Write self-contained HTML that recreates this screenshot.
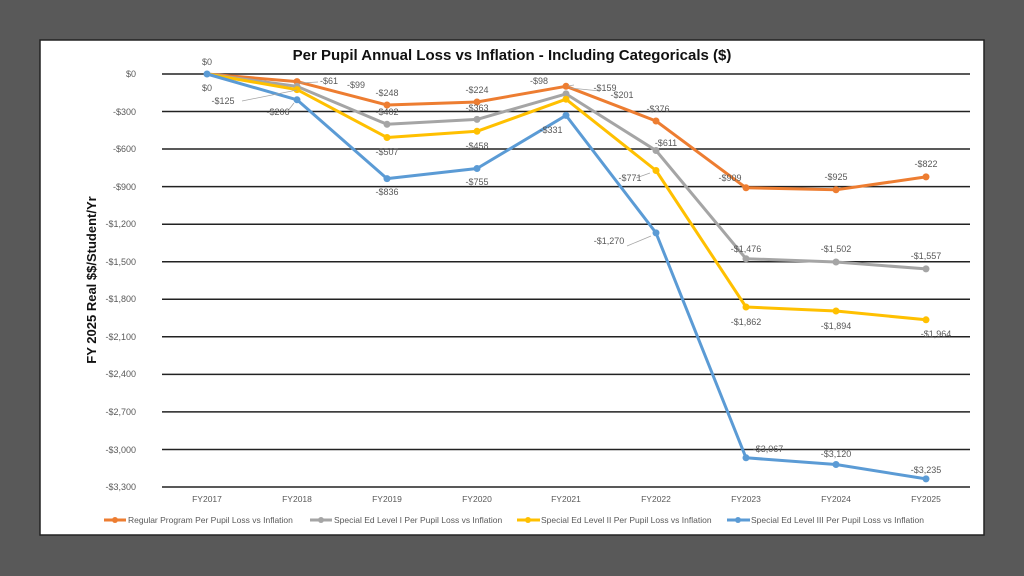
<!DOCTYPE html>
<html><head><meta charset="utf-8"><style>
body{margin:0;width:1024px;height:576px;background:#595959;overflow:hidden}
svg{position:absolute;left:0;top:0}
text{font-family:"Liberation Sans",sans-serif}
</style></head><body>
<svg width="1024" height="576" viewBox="0 0 1024 576">
<rect x="40" y="40" width="944" height="495" fill="#fff" stroke="#222" stroke-width="1.5"/>
<text x="512" y="60" text-anchor="middle" font-size="15" font-weight="bold" fill="#111">Per Pupil Annual Loss vs Inflation - Including Categoricals ($)</text>
<g stroke="#222" stroke-width="1.5">
<line x1="162" x2="970" y1="74" y2="74"/><line x1="162" x2="970" y1="111.5" y2="111.5"/><line x1="162" x2="970" y1="149" y2="149"/><line x1="162" x2="970" y1="186.6" y2="186.6"/><line x1="162" x2="970" y1="224.2" y2="224.2"/><line x1="162" x2="970" y1="261.7" y2="261.7"/><line x1="162" x2="970" y1="299.3" y2="299.3"/><line x1="162" x2="970" y1="336.8" y2="336.8"/><line x1="162" x2="970" y1="374.4" y2="374.4"/><line x1="162" x2="970" y1="411.9" y2="411.9"/><line x1="162" x2="970" y1="449.5" y2="449.5"/><line x1="162" x2="970" y1="487" y2="487"/>
</g>
<g font-size="9" fill="#595959" text-anchor="end">
<text x="136" y="77">$0</text><text x="136" y="115">-$300</text><text x="136" y="152">-$600</text><text x="136" y="190">-$900</text><text x="136" y="227">-$1,200</text><text x="136" y="265">-$1,500</text><text x="136" y="302">-$1,800</text><text x="136" y="340">-$2,100</text><text x="136" y="377">-$2,400</text><text x="136" y="415">-$2,700</text><text x="136" y="453">-$3,000</text><text x="136" y="490">-$3,300</text>
</g>
<text transform="translate(96,280) rotate(-90)" text-anchor="middle" font-size="13" font-weight="bold" fill="#111">FY 2025 Real $$/Student/Yr</text>
<g font-size="8.5" fill="#595959" text-anchor="middle">
<text x="207" y="502">FY2017</text><text x="297" y="502">FY2018</text><text x="387" y="502">FY2019</text><text x="477" y="502">FY2020</text><text x="566" y="502">FY2021</text><text x="656" y="502">FY2022</text><text x="746" y="502">FY2023</text><text x="836" y="502">FY2024</text><text x="926" y="502">FY2025</text>
</g>
<g fill="none" stroke-width="3" stroke-linejoin="round">
<polyline stroke="#ED7D31" points="207,74 297,81.6 387,105 477,102 566,86.3 656,121 746,187.8 836,189.8 926,176.9"/>
<polyline stroke="#A5A5A5" points="207,74 297,86.4 387,124.3 477,119.4 566,93.9 656,150.5 746,258.7 836,262 926,268.9"/>
<polyline stroke="#FFC000" points="207,74 297,89.6 387,137.5 477,131.3 566,99.2 656,170.5 746,307 836,311 926,319.8"/>
<polyline stroke="#5B9BD5" points="207,74 297,99.8 387,178.6 477,168.5 566,115.4 656,232.9 746,457.8 836,464.5 926,478.9"/>
</g>
<g fill="#ED7D31"><circle cx="297" cy="81.6" r="3.5"/><circle cx="387" cy="105" r="3.5"/><circle cx="477" cy="102" r="3.5"/><circle cx="566" cy="86.3" r="3.5"/><circle cx="656" cy="121" r="3.5"/><circle cx="746" cy="187.8" r="3.5"/><circle cx="836" cy="189.8" r="3.5"/><circle cx="926" cy="176.9" r="3.5"/></g>
<g fill="#A5A5A5"><circle cx="297" cy="86.4" r="3.5"/><circle cx="387" cy="124.3" r="3.5"/><circle cx="477" cy="119.4" r="3.5"/><circle cx="566" cy="93.9" r="3.5"/><circle cx="656" cy="150.5" r="3.5"/><circle cx="746" cy="258.7" r="3.5"/><circle cx="836" cy="262" r="3.5"/><circle cx="926" cy="268.9" r="3.5"/></g>
<g fill="#FFC000"><circle cx="297" cy="89.6" r="3.5"/><circle cx="387" cy="137.5" r="3.5"/><circle cx="477" cy="131.3" r="3.5"/><circle cx="566" cy="99.2" r="3.5"/><circle cx="656" cy="170.5" r="3.5"/><circle cx="746" cy="307" r="3.5"/><circle cx="836" cy="311" r="3.5"/><circle cx="926" cy="319.8" r="3.5"/></g>
<g fill="#5B9BD5"><circle cx="207" cy="74" r="3.5"/><circle cx="297" cy="99.8" r="3.5"/><circle cx="387" cy="178.6" r="3.5"/><circle cx="477" cy="168.5" r="3.5"/><circle cx="566" cy="115.4" r="3.5"/><circle cx="656" cy="232.9" r="3.5"/><circle cx="746" cy="457.8" r="3.5"/><circle cx="836" cy="464.5" r="3.5"/><circle cx="926" cy="478.9" r="3.5"/></g>
<g stroke="#A5A5A5" stroke-width="0.8" fill="none">
<polyline points="242,101 297,90"/><polyline points="287,112 294,103"/><polyline points="318,82 300,83"/><polyline points="600,91 570,88"/><polyline points="627,246 651,236"/><polyline points="636,178 650,173"/><polyline points="574,85 568,86"/>
</g>
<g font-size="9" fill="#595959" text-anchor="middle">
<text x="207" y="65">$0</text><text x="207" y="91">$0</text>
<text x="223" y="104">-$125</text><text x="278" y="115">-$206</text>
<text x="329" y="84">-$61</text><text x="356" y="88">-$99</text>
<text x="387" y="96">-$248</text><text x="387" y="115">-$402</text><text x="387" y="155">-$507</text><text x="387" y="195">-$836</text>
<text x="477" y="93">-$224</text><text x="477" y="111">-$363</text><text x="477" y="149">-$458</text><text x="477" y="185">-$755</text>
<text x="539" y="84">-$98</text><text x="605" y="91">-$159</text><text x="622" y="98">-$201</text><text x="551" y="133">-$331</text>
<text x="658" y="112">-$376</text><text x="666" y="146">-$611</text><text x="630" y="181">-$771</text><text x="609" y="244">-$1,270</text>
<text x="730" y="181">-$909</text><text x="836" y="180">-$925</text><text x="926" y="167">-$822</text>
<text x="746" y="252">-$1,476</text><text x="836" y="252">-$1,502</text><text x="926" y="259">-$1,557</text>
<text x="746" y="325">-$1,862</text><text x="836" y="329">-$1,894</text><text x="936" y="337">-$1,964</text>
<text x="768" y="452">-$3,067</text><text x="836" y="457">-$3,120</text><text x="926" y="473">-$3,235</text>
</g>
<g font-size="8.5" fill="#595959">
<line x1="104" x2="126" y1="520" y2="520" stroke="#ED7D31" stroke-width="3"/><circle cx="115" cy="520" r="3" fill="#ED7D31"/><text x="128" y="523">Regular Program Per Pupil Loss vs Inflation</text>
<line x1="310" x2="332" y1="520" y2="520" stroke="#A5A5A5" stroke-width="3"/><circle cx="321" cy="520" r="3" fill="#A5A5A5"/><text x="334" y="523">Special Ed Level I Per Pupil Loss vs Inflation</text>
<line x1="517" x2="540" y1="520" y2="520" stroke="#FFC000" stroke-width="3"/><circle cx="528" cy="520" r="3" fill="#FFC000"/><text x="541" y="523">Special Ed Level II Per Pupil Loss vs Inflation</text>
<line x1="727" x2="750" y1="520" y2="520" stroke="#5B9BD5" stroke-width="3"/><circle cx="738" cy="520" r="3" fill="#5B9BD5"/><text x="751" y="523">Special Ed Level III Per Pupil Loss vs Inflation</text>
</g>
</svg>
</body></html>
